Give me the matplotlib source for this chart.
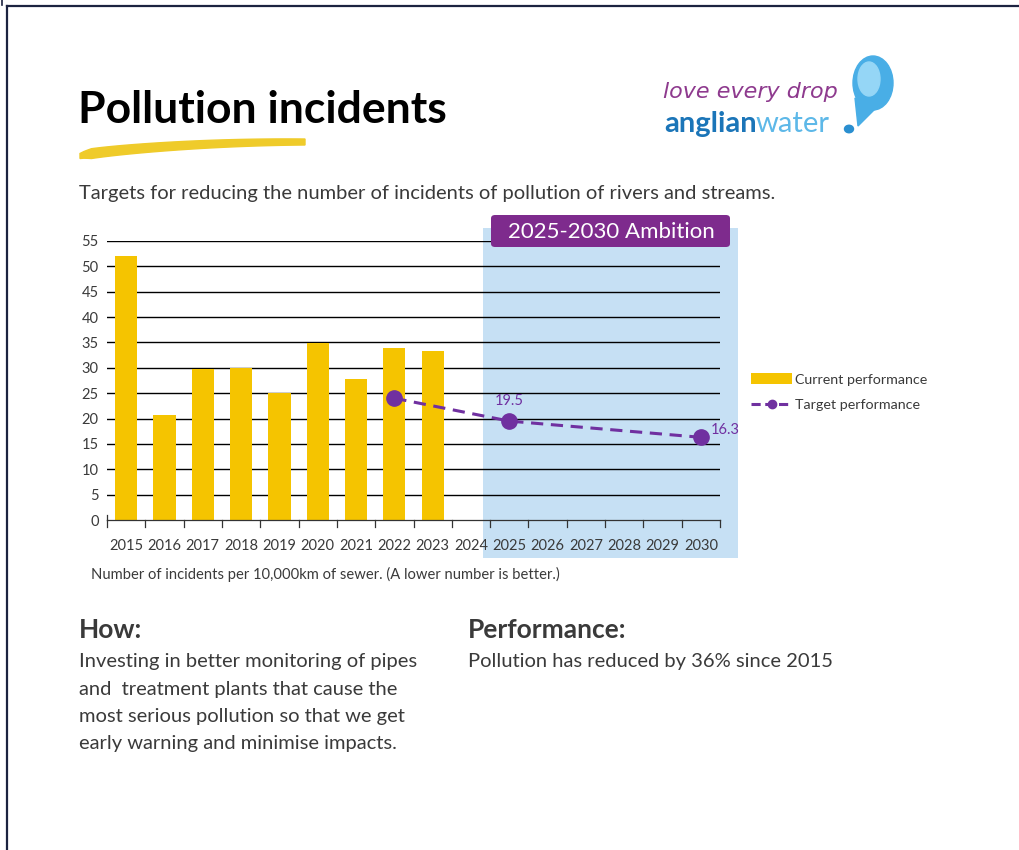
import matplotlib.pyplot as plt
from matplotlib.patches import Rectangle, FancyBboxPatch, Ellipse, Circle, Polygon
from matplotlib.lines import Line2D
import numpy as np

years = [str(y) for y in range(2015, 2031)]
current = [52, 20.7, 29.8, 30, 25, 34.9, 27.7, 33.9, 33.4]
target_years = ['2022', '2025', '2030']
target = [24, 19.5, 16.3]
target_labels = {'2025': '19.5', '2030': '16.3'}
yticks = list(range(0, 60, 5))

W, H = 1020, 850
yellow = '#F5C400'
purple = '#7030A0'
txt = '#3A3A3A'
plt.rcParams['font.family'] = ['Lato', 'DejaVu Sans']


def fx(x):
    return x / W


def fy(y):
    return 1 - y / H


fig = plt.figure(figsize=(10.2, 8.5), dpi=100)

# frame lines of the page
fig.add_artist(Line2D([fx(7), 1], [fy(6), fy(6)], color='#1C2340', lw=1.6))
fig.add_artist(Line2D([fx(7), fx(7)], [fy(6), 0], color='#1C2340', lw=1.6))
fig.add_artist(Line2D([fx(2), fx(2)], [1, fy(5)], color='#1C2340', lw=1.2))

# title + swoosh
fig.text(fx(78), fy(110), 'Pollution incidents', fontsize=32, fontweight='bold',
         color='black', va='center', ha='left')
t = np.linspace(0, 1, 60)
sx = 80 + 225 * t
sy = 156 - 14 * np.sin(t * np.pi / 2) ** 0.7
thick = 10 - 4 * t
thick[:4] = thick[:4] * np.linspace(0.5, 1, 4)
top = np.column_stack([sx, sy - thick / 2])
bot = np.column_stack([sx, sy + thick / 2])[::-1]
pts = np.vstack([top, bot])
fig.add_artist(Polygon(np.column_stack([fx(pts[:, 0]), fy(pts[:, 1])]), closed=True,
                       facecolor='#EFCB2A', edgecolor='#EFCB2A', lw=1,
                       transform=fig.transFigure))

fig.text(fx(79), fy(193), 'Targets for reducing the number of incidents of pollution of rivers and streams.',
         fontsize=14.5, color=txt, va='center', ha='left')

# logo
fig.text(fx(663), fy(92), 'love every drop', fontsize=16, color='#8E3A8E',
         fontstyle='italic', va='center', ha='left', family=['DejaVu Sans'],
         fontweight='light')
fig.text(fx(664), fy(124), 'anglian', fontsize=21, color='#1B75B8', fontweight='bold',
         va='center', ha='left')
fig.text(fx(756), fy(124), 'water', fontsize=21, color='#5DB8E8',
         va='center', ha='left')
fig.add_artist(Circle((fx(849), fy(129)), 4.5 / W, color='#2A8FD0', transform=fig.transFigure))
fig.add_artist(Polygon([[fx(855), fy(98)], [fx(878), fy(106)], [fx(858), fy(126)]], closed=True,
                       color='#49AEE6', transform=fig.transFigure))
fig.add_artist(Ellipse((fx(873), fy(83)), 40 / W, 54 / H, color='#49AEE6', transform=fig.transFigure))
fig.add_artist(Ellipse((fx(869), fy(79)), 22 / W, 34 / H, color='#95D6F6', transform=fig.transFigure))

# chart
ax = fig.add_axes([fx(107), fy(520), fx(720) - fx(107), (520 - 241) / H])
ax.patch.set_visible(False)
x = np.arange(len(years))

ax.add_patch(Rectangle((fx(483), fy(558)), fx(738) - fx(483), (558 - 228) / H,
                       transform=fig.transFigure, facecolor='#C6E0F4', edgecolor='none',
                       clip_on=False, zorder=0))

for v in yticks[1:]:
    ax.axhline(v, color='black', lw=1.0, zorder=1)

ax.bar(x[:len(current)], current, width=0.58, color=yellow, zorder=2,
       label='Current performance')
tx = [years.index(y) for y in target_years]
ax.plot(tx, target, color=purple, ls=(0, (4, 2.5)), lw=2.2, marker='o', markersize=11,
        zorder=3, label='Target performance')
for y, lab in target_labels.items():
    i = years.index(y)
    v = target[target_years.index(y)]
    if y == '2030':
        ax.text(i + 0.25, v + 1.5, lab, color=purple, fontsize=10.5, ha='left', va='center')
    else:
        ax.text(i, v + 2.6, lab, color=purple, fontsize=10.5, ha='center', va='bottom')

ax.set_xlim(-0.5, len(years) - 0.5)
ax.set_ylim(0, 55)
ax.set_yticks(yticks)
ax.set_xticks(x)
ax.set_xticklabels(years)
ax.tick_params(axis='both', length=0, labelsize=10.5, colors=txt, pad=6)
ax.tick_params(axis='x', pad=14)
ax.set_yticklabels([str(v) for v in yticks], color=txt)
for s in ['top', 'right', 'left']:
    ax.spines[s].set_visible(False)
ax.spines['bottom'].set_color('#333333')
ax.spines['bottom'].set_linewidth(0.9)
for b in np.arange(-0.5, len(years), 1.0):
    ax.plot([b, b], [0, -1.3], color='#333333', lw=0.9, clip_on=False, zorder=3)
ax.plot([-0.5, -0.5], [0, 1.0], color='#333333', lw=0.9, clip_on=False)

# ambition badge
fig.add_artist(FancyBboxPatch((fx(491), fy(247)), fx(730) - fx(491), (247 - 215) / H,
                              boxstyle='round,pad=0,rounding_size=0.004',
                              facecolor='#7E2B8D', edgecolor='none', transform=fig.transFigure))
fig.text(fx(611), fy(232), '2025-2030 Ambition', fontsize=16, color='white',
         ha='center', va='center')

# legend
h1 = Rectangle((0, 0), 1, 1, facecolor=yellow, edgecolor='none')
h2 = Line2D([], [], color=purple, ls=(0, (3, 1.5)), lw=2.2, marker='o', markersize=6)
fig.legend([h1, h2], ['Current performance', 'Target performance'],
           loc='center left', bbox_to_anchor=(fx(738), fy(392)), frameon=False,
           fontsize=10.3, handlelength=2.9, handleheight=0.8, handletextpad=0.2,
           labelspacing=0.9, labelcolor=txt)

fig.text(fx(91), fy(574), 'Number of incidents per 10,000km of sewer. (A lower number is better.)',
         fontsize=10.6, color=txt, va='center', ha='left')

# text blocks
fig.text(fx(79), fy(630), 'How:', fontsize=19, fontweight='bold', color=txt, va='center')
fig.text(fx(468), fy(630), 'Performance:', fontsize=19, fontweight='bold', color=txt, va='center')
how_lines = ['Investing in better monitoring of pipes',
             'and  treatment plants that cause the',
             'most serious pollution so that we get',
             'early warning and minimise impacts.']
for i, line in enumerate(how_lines):
    fig.text(fx(79), fy(662 + 27.3 * i), line, fontsize=14.5, color=txt, va='center')
fig.text(fx(468), fy(662), 'Pollution has reduced by 36% since 2015', fontsize=14.5,
         color=txt, va='center')

fig.savefig('out.png', dpi=100, facecolor='white')
